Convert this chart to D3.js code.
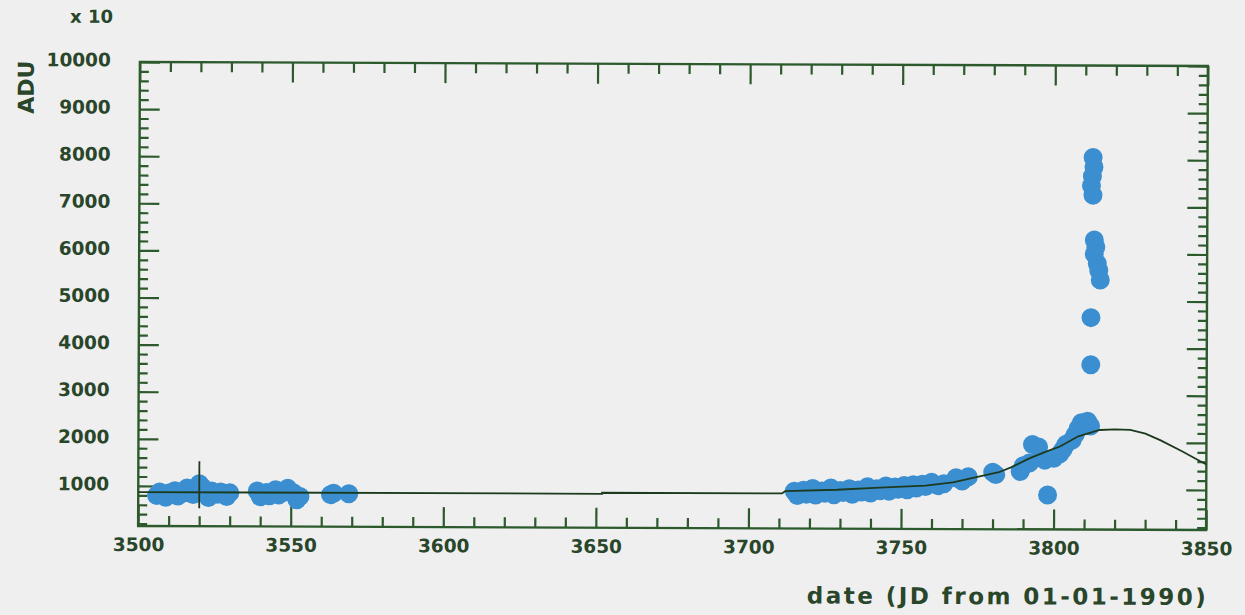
<!DOCTYPE html>
<html><head><meta charset="utf-8">
<script src="https://cdn.jsdelivr.net/npm/d3@7"></script>
<style>
html,body{margin:0;padding:0;background:#efefef;}
svg{display:block;}
text{font-family:"DejaVu Sans",sans-serif;fill:#29452a;}
</style></head><body>
<svg id="c" width="1245" height="615"></svg>
<script>
// ---- data ----
const xTickLabels = [3500, 3550, 3600, 3650, 3700, 3750, 3800, 3850];
const yTickLabels = [1000, 2000, 3000, 4000, 5000, 6000, 7000, 8000, 9000, 10000];

// observed points (JD from 01-01-1990, ADU/10)
const ptX = [
  3506, 3507, 3509, 3510, 3512, 3513, 3515, 3516, 3518, 3520, 3521, 3523, 3524, 3526, 3527, 3529, 3530,
  3539, 3540, 3542, 3543, 3545, 3546, 3548, 3549, 3551, 3552, 3553,
  3563, 3564, 3569,
  3715, 3716, 3718, 3719, 3721, 3722, 3724, 3725, 3727, 3728, 3730, 3731, 3733, 3734, 3736, 3737, 3739,
  3740, 3742, 3743, 3745, 3746, 3748, 3749, 3751, 3752, 3754, 3755, 3757, 3758, 3760, 3762, 3764,
  3768, 3770, 3772, 3780, 3781,
  3789, 3790, 3792, 3793, 3795, 3797, 3798, 3800, 3802, 3803, 3804,
  3806, 3807, 3808, 3809, 3811, 3812,
  3812.5, 3812.8, 3812.3, 3812, 3812.5, 3813, 3813.5, 3813, 3814, 3814.5, 3815, 3812, 3812
];
const ptY = [
  800, 870, 760, 850, 900, 790, 860, 960, 820, 1050, 980, 760, 900, 830, 880, 780, 860,
  900, 780, 870, 800, 930, 820, 880, 960, 860, 720, 790,
  830, 860, 850,
  940, 850, 960, 880, 1000, 860, 950, 900, 1010, 870, 960, 920, 1000, 880, 970, 930, 1040,
  910, 1000, 960, 1060, 950, 1040, 990, 1070, 980, 1090, 1020, 1100, 1050, 1140, 1070, 1110,
  1240, 1170, 1260, 1360, 1310,
  1380, 1500, 1560, 1950, 1900, 1620, 880, 1660, 1760, 1850, 1960,
  2050, 2170, 2300, 2420, 2450, 2350,
  8050, 7850, 7650, 7450, 7250, 6300, 6150, 6000, 5800, 5650, 5450, 4650, 3650
];

// error bar visible outside a marker
const errX = [3520];
const errLo = [530];
const errHi = [1530];

// model curve
const curveX = [3500, 3652, 3652, 3711, 3712, 3729, 3743, 3758, 3767, 3775, 3782, 3786, 3792, 3797, 3802, 3808, 3815, 3820, 3825, 3830, 3835, 3842, 3848, 3850];
const curveY = [870, 870, 892, 892, 940, 975, 1025, 1070, 1140, 1260, 1360, 1466, 1657, 1790, 1912, 2130, 2265, 2280, 2270, 2190, 2050, 1820, 1610, 1540];

// ---- layout ----
const L = 139, R = 1207, T = 64, B = 528;
const svg = d3.select("#c");
const g = svg.append("g").attr("transform", "rotate(0.22 673 296)");

const x = d3.scaleLinear().domain([3500, 3850]).range([L, R]);
const y = d3.scaleLinear().domain([150, 10000]).range([B, T]);

const axisCol = "#2c5a2d";
const xMinor = d3.range(3500, 3851, 10).filter(v => !xTickLabels.includes(v));
const yMinor = d3.range(200, 10001, 200).filter(v => !yTickLabels.includes(v));

function styleAxis(sel) {
  sel.select(".domain").remove();
  sel.selectAll("line").attr("stroke", axisCol).attr("stroke-width", 2.2);
  sel.selectAll("text").attr("fill", "#29452a")
    .style("font-family", "'DejaVu Sans', sans-serif")
    .style("font-weight", "bold").style("font-size", "18.5px");
}

// bottom
g.append("g").attr("transform", `translate(0,${B})`)
  .call(d3.axisBottom(x).tickValues(xMinor).tickSize(-10).tickFormat(""))
  .call(styleAxis);
g.append("g").attr("transform", `translate(0,${B})`)
  .call(d3.axisBottom(x).tickValues(xTickLabels).tickSize(-20).tickPadding(12).tickFormat(d3.format("d")))
  .call(styleAxis);
// top
g.append("g").attr("transform", `translate(0,${T})`)
  .call(d3.axisTop(x).tickValues(xMinor).tickSize(-10).tickFormat(""))
  .call(styleAxis);
g.append("g").attr("transform", `translate(0,${T})`)
  .call(d3.axisTop(x).tickValues(xTickLabels).tickSize(-20).tickFormat(""))
  .call(styleAxis);
// left
g.append("g").attr("transform", `translate(${L},0)`)
  .call(d3.axisLeft(y).tickValues(yMinor).tickSize(-9).tickFormat(""))
  .call(styleAxis);
const yl = g.append("g").attr("transform", `translate(${L},0)`)
  .call(d3.axisLeft(y).tickValues(yTickLabels).tickSize(-20).tickPadding(29).tickFormat(d3.format("d")))
  .call(styleAxis);
yl.selectAll("text").attr("dy", "0.22em");
// right
g.append("g").attr("transform", `translate(${R},0)`)
  .call(d3.axisRight(y).tickValues(yMinor).tickSize(-9).tickFormat(""))
  .call(styleAxis);
g.append("g").attr("transform", `translate(${R},0)`)
  .call(d3.axisRight(y).tickValues(yTickLabels).tickSize(-20).tickFormat(""))
  .call(styleAxis);

// frame
g.append("rect").attr("x", L).attr("y", T).attr("width", R - L).attr("height", B - T)
  .attr("fill", "none").attr("stroke", axisCol).attr("stroke-width", 2.4);

// points
const pts = ptX.map((d, i) => [d, ptY[i]]);
g.append("g").selectAll("circle").data(pts).join("circle")
  .attr("cx", d => x(d[0])).attr("cy", d => y(d[1])).attr("r", 9.5)
  .attr("fill", "#3b8fd0");

// error bars
g.append("g").selectAll("line").data(errX).join("line")
  .attr("x1", d => x(d)).attr("x2", d => x(d))
  .attr("y1", (d, i) => y(errLo[i])).attr("y2", (d, i) => y(errHi[i]))
  .attr("stroke", "#1f3a20").attr("stroke-width", 1.8);

// model curve
const line = d3.line().x(d => x(d[0])).y(d => y(d[1])).curve(d3.curveLinear);
g.append("path").datum(curveX.map((d, i) => [d, curveY[i]]))
  .attr("d", line).attr("fill", "none").attr("stroke", "#1c3a1e").attr("stroke-width", 1.8);

// titles
g.append("text").attr("x", 1207).attr("y", 603).attr("text-anchor", "end")
  .style("font-size", "23px").style("font-weight", "bold")
  .attr("textLength", 399).attr("lengthAdjust", "spacing")
  .text("date (JD from 01-01-1990)");
g.append("text").attr("transform", "translate(33,63) rotate(-90)").attr("text-anchor", "end")
  .style("font-size", "22px").style("font-weight", "bold")
  .text("ADU");
g.append("text").attr("x", 112).attr("y", 25).attr("text-anchor", "end")
  .style("font-size", "18px").style("font-weight", "bold")
  .text("x 10");
</script>
</body></html>
